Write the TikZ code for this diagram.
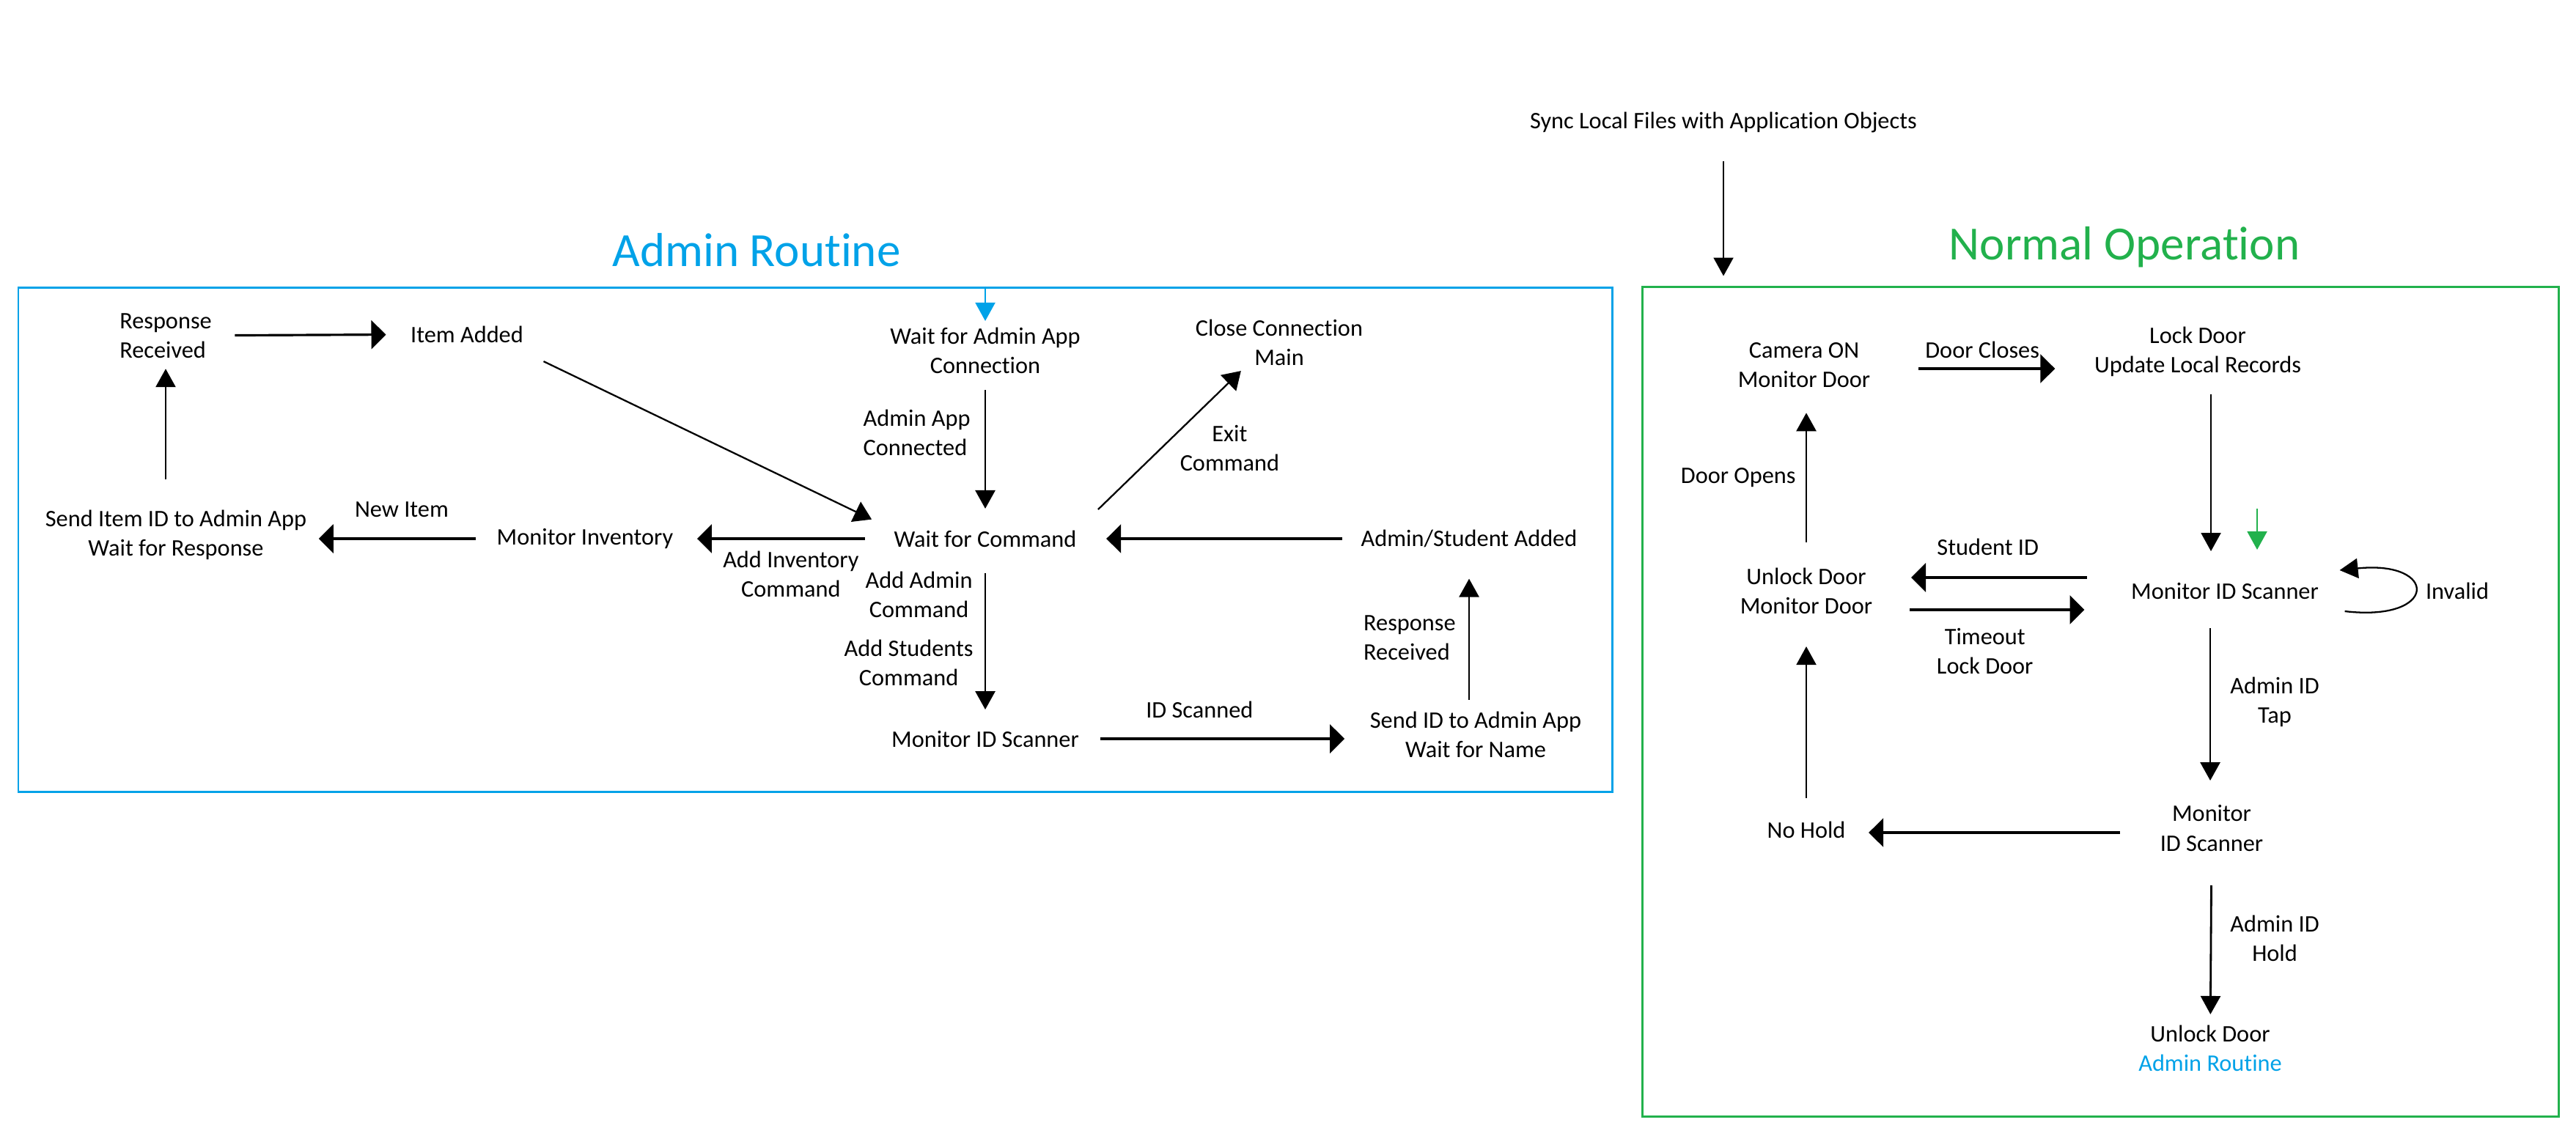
\documentclass[tikz,border=0pt]{standalone}
\usepackage{fontspec}
\setmainfont{Carlito}[Ligatures={NoCommon}]
\usetikzlibrary{arrows.meta, positioning}
\definecolor{adminblue}{RGB}{0,162,232}
\definecolor{opgreen}{RGB}{34,177,76}

\begin{document}
\begin{tikzpicture}[node distance=2cm, font=\fontsize{9.2}{11.4}\selectfont]
\tikzstyle{state}=[inner sep=0pt, align=center]
\tikzstyle{cond}=[inner sep=0pt, align=center]
\tikzstyle{heading}=[inner sep=0pt, font=\fontsize{18.5}{22}\selectfont]
\tikzstyle{area}=[draw, line width=0.85pt, inner sep=0pt]
\tikzstyle{arrow}=[line width=0.8pt, -{Triangle[width=0.27cm,length=0.25cm]}]
\tikzstyle{harrow}=[line width=0.9pt, -{Triangle[width=0.39cm,length=0.2cm]}]
\tikzstyle{darrow}=[line width=0.65pt, -{Triangle[width=0.3cm,length=0.24cm]}]
\useasboundingbox (0,0) rectangle (35.14,-15.64);
\node[area, draw=adminblue, minimum width=21.74cm, minimum height=6.88cm] (adminbox) at (11.12,-7.36) {};
\node[heading, text=adminblue] (admintitle) at (10.32,-3.41) {Admin Routine};
\node[state] (waitapp) at (13.44,-4.78) {Wait for Admin App\\Connection};
\node[state, below of=waitapp, node distance=2.57cm] (wfc) {Wait for Command};
\node[state, below of=wfc, node distance=2.73cm] (mis) {Monitor ID Scanner};
\node[state, left of=wfc, node distance=5.46cm] (moninv) {Monitor Inventory};
\node[state, right of=wfc, node distance=6.6cm] (added2) {Admin/Student Added};
\node[state] (close) at (17.45,-4.67) {Close Connection\\Main};
\node[state] (sendid) at (20.13,-10.02) {Send ID to Admin App\\Wait for Name};
\node[state] (senditem) at (2.40,-7.30) {Send Item ID to Admin App\\Wait for Response};
\node[state, align=left] (rr1) at (2.26,-4.58) {Response\\Received};
\node[state] (added) at (6.37,-4.56) {Item Added};
\draw[harrow, shorten <=0.31cm, shorten >=0.33cm] (rr1) -- (added);
\draw[darrow, shorten <=0.3cm, shorten >=0.33cm] ([yshift=-0.12cm]added.south east) -- (wfc.north west);
\draw[arrow, shorten <=0.41cm, shorten >=0.14cm] (rr1.south |- senditem.north) -- (rr1.south);
\draw[harrow, shorten <=0.28cm, shorten >=0.16cm] (moninv.west) -- node[cond, midway, above=0.28cm]{New Item} (moninv.west -| senditem.east);
\draw[harrow, shorten <=0.39cm, shorten >=0.32cm] (wfc.west) -- node[cond, midway, below=0.15cm, xshift=0.1cm]{Add Inventory\\Command} (moninv.east);
\draw[arrow, shorten <=0.22cm, shorten >=0.29cm] (waitapp.south) -- node[cond, midway, left=0.19cm, yshift=0.26cm, align=left]{Admin App\\Connected} (waitapp.south |- wfc.north);
\draw[darrow, shorten <=0.4cm, shorten >=0.1cm] (wfc.north east) -- node[cond, midway, right=0.24cm]{Exit\\Command} ([xshift=-0.45cm]close.south);
\draw[harrow, shorten <=0.25cm, shorten >=0.4cm] (added2.west) -- (added2.west -| wfc.east);
\draw[arrow, shorten <=0.35cm, shorten >=0.28cm] (wfc) -- node[cond, pos=0.26, left=0.16cm]{Add Admin\\Command} node[cond, pos=0.63, left=0.15cm]{Add Students\\Command} (mis);
\draw[harrow, shorten <=0.28cm, shorten >=0.34cm] (mis.east) -- node[cond, midway, above=0.27cm, xshift=-0.34cm]{ID Scanned} (mis.east -| sendid.west);
\draw[arrow, shorten <=0.15cm, shorten >=0.42cm] (sendid.north -| added2.south) -- node[cond, midway, left=0.17cm, yshift=-0.11cm, align=left]{Response\\Received} (added2.south);
\draw[arrow, adminblue, line width=0.6pt, shorten >=0.08cm] (adminbox.north -| waitapp.north) -- (waitapp.north);
\node[state] (sync) at (23.51,-1.67) {Sync Local Files with Application Objects};
\node[area, draw=opgreen, minimum width=12.5cm, minimum height=11.32cm] (nopbox) at (28.65,-9.57) {};
\node[heading, text=opgreen] (noptitle) at (28.98,-3.37) {Normal Operation};
\node[state] (camera) at (24.61,-4.98) {Camera ON\\Monitor Door};
\node[state] (lock) at (29.98,-4.80) {Lock Door\\Update Local Records};
\node[state] (mis2) at (30.35,-8.06) {Monitor ID Scanner};
\node[state, left of=mis2, node distance=5.71cm] (unlock) {Unlock Door\\Monitor Door};
\node[state] (mis3) at (30.17,-11.30) {Monitor\\ID Scanner};
\node[state, below of=unlock, node distance=3.26cm] (nohold) {No Hold};
\node[state] (unlockadmin) at (30.15,-14.30) {Unlock Door\\\textcolor{adminblue}{Admin Routine}};
\node[cond, right of=mis2, node distance=3.17cm] (invalid) {Invalid};
\coordinate (nopentry) at (30.79,-6.94);
\draw[arrow, line width=0.6pt, shorten <=0.38cm, shorten >=0.13cm] (sync) -- (sync |- nopbox.north);
\draw[harrow, shorten <=0.65cm, shorten >=0.53cm] ([yshift=-0.05cm]camera.east) -- node[cond, midway, above=0.13cm]{Door Closes} ([yshift=-0.05cm]camera.east -| lock.west);
\draw[arrow, line width=0.6pt, shorten <=0.23cm, shorten >=0.42cm] ([xshift=0.18cm]lock.south) -- ([xshift=0.18cm]lock.south |- mis2.north);
\draw[arrow, opgreen, line width=0.6pt, shorten >=0.44cm] (nopentry) -- (nopentry |- mis2.north);
\draw[arrow, shorten <=0.34cm, shorten >=0.34cm] (unlock.north) -- node[cond, midway, left=0.13cm]{Door Opens} (unlock.north |- camera.south);
\draw[harrow, shorten <=0.6cm, shorten >=0.52cm] ([yshift=0.18cm]mis2.west) -- node[cond, midway, above=0.29cm, xshift=-0.19cm]{Student ID} ([yshift=0.18cm]mis2.west -| unlock.east);
\draw[harrow, shorten <=0.5cm, shorten >=0.63cm] ([yshift=-0.26cm]unlock.east) -- node[cond, midway, below=0.24cm, xshift=-0.23cm]{Timeout\\Lock Door} ([yshift=-0.26cm]unlock.east -| mis2.west);
\draw[arrow, line width=0.65pt] ([xshift=0.35cm,yshift=-0.28cm]mis2.east) .. controls +(1.28,-0.15) and +(1.35,0.14) .. ([xshift=0.28cm,yshift=0.28cm]mis2.east);
\draw[arrow, shorten <=0.39cm, shorten >=0.33cm] ([xshift=-0.2cm]mis2.south) -- node[cond, midway, right=0.26cm]{Admin ID\\Tap} ([xshift=-0.2cm]mis2.south |- mis3.north);
\draw[harrow, shorten <=0.54cm, shorten >=0.31cm] ([yshift=-0.06cm]mis3.west) -- ([yshift=-0.06cm]mis3.west -| nohold.east);
\draw[arrow, line width=0.6pt, shorten <=0.31cm, shorten >=0.44cm] (nohold.north -| unlock.south) -- (unlock.south);
\draw[arrow, shorten <=0.46cm, shorten >=0.14cm] (mis3) -- node[cond, midway, right=0.25cm]{Admin ID\\Hold} (unlockadmin);
\end{tikzpicture}
\end{document}
